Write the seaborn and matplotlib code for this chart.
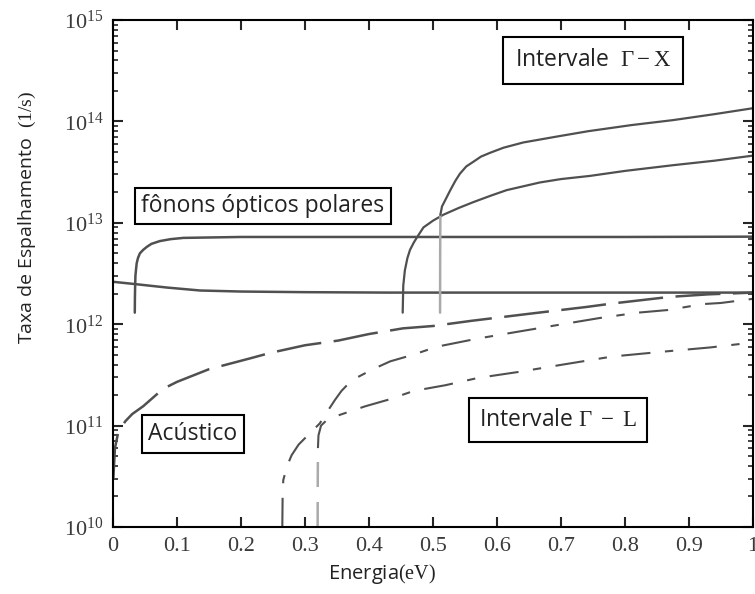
import matplotlib
matplotlib.use("Agg")
import matplotlib.pyplot as plt
import seaborn as sns

# polar optical phonons (Gamma valley)
po1_x = [0.0, 0.031, 0.084, 0.136, 0.2, 0.3, 0.43, 0.6, 0.8, 1.0]
po1_y = [2.62e12, 2.5e12, 2.3e12, 2.15e12, 2.1e12, 2.07e12, 2.05e12, 2.05e12, 2.05e12, 2.05e12]

po2_x = [0.034, 0.0342, 0.0345, 0.035, 0.036, 0.037, 0.039, 0.042, 0.047, 0.053, 0.06, 0.073, 0.09, 0.11, 0.2, 0.4, 0.6, 0.8, 1.0]
po2_y = [1.3e12, 1.8e12, 2.3e12, 3.0e12, 3.5e12, 4.0e12, 4.5e12, 5.0e12, 5.4e12, 5.8e12, 6.2e12, 6.6e12, 6.9e12, 7.1e12, 7.25e12, 7.25e12, 7.25e12, 7.25e12, 7.3e12]

# intervalley Gamma - X
gx1_x = [0.4526, 0.4535, 0.456, 0.46, 0.464, 0.47, 0.475, 0.485, 0.5, 0.516, 0.54, 0.563, 0.59, 0.615, 0.667, 0.7, 0.745, 0.8, 0.875, 0.94, 1.0]
gx1_y = [1.3e12, 2.4e12, 3.4e12, 4.5e12, 5.4e12, 6.4e12, 7.2e12, 9.0e12, 1.05e13, 1.2e13, 1.4e13, 1.6e13, 1.85e13, 2.1e13, 2.5e13, 2.7e13, 2.9e13, 3.25e13, 3.7e13, 4.1e13, 4.6e13]

gx2_x = [0.511, 0.5112, 0.5115, 0.514, 0.519, 0.527, 0.535, 0.542, 0.552, 0.563, 0.575, 0.589, 0.61, 0.641, 0.694, 0.742, 0.81, 0.875, 0.94, 1.0]
gx2_y = [1.3e12, 6e12, 1.2e13, 1.45e13, 1.67e13, 2.1e13, 2.6e13, 3.05e13, 3.6e13, 4.0e13, 4.5e13, 4.9e13, 5.5e13, 6.2e13, 7.1e13, 8.0e13, 9.2e13, 1.03e14, 1.18e14, 1.35e14]

# acoustic
ac_x = [0.0005, 0.003, 0.008, 0.019, 0.03, 0.047, 0.078, 0.1, 0.15, 0.214, 0.245, 0.3, 0.352, 0.4, 0.453, 0.5, 0.56, 0.647, 0.74, 0.78, 0.87, 0.93, 1.0]
ac_y = [3.0e10, 6.0e10, 8.5e10, 1.1e11, 1.3e11, 1.55e11, 2.3e11, 2.7e11, 3.6e11, 4.6e11, 5.2e11, 6.2e11, 6.9e11, 8.0e11, 9.1e11, 9.6e11, 1.08e12, 1.26e12, 1.48e12, 1.6e12, 1.86e12, 1.97e12, 2.05e12]

# intervalley Gamma - L
gl1_x = [0.2645, 0.265, 0.266, 0.272, 0.279, 0.29, 0.305, 0.323, 0.334, 0.347, 0.357, 0.373, 0.406, 0.433, 0.469, 0.506, 0.569, 0.631, 0.694, 0.76, 0.82, 0.867, 0.922, 0.95, 1.0]
gl1_y = [1.0e10, 2.0e10, 2.9e10, 4.0e10, 5.1e10, 6.5e10, 8.1e10, 1.05e11, 1.35e11, 1.8e11, 2.2e11, 2.8e11, 3.6e11, 4.3e11, 5.0e11, 6.0e11, 7.2e11, 8.4e11, 9.8e11, 1.15e12, 1.3e12, 1.38e12, 1.58e12, 1.62e12, 1.78e12]

gl2_x = [0.3197, 0.3199, 0.3202, 0.321, 0.325, 0.335, 0.355, 0.394, 0.43, 0.47, 0.519, 0.57, 0.636, 0.703, 0.78, 0.865, 0.933, 0.972, 1.0]
gl2_y = [1.0e10, 3.0e10, 6.0e10, 8.0e10, 1.0e11, 1.15e11, 1.28e11, 1.55e11, 1.8e11, 2.2e11, 2.5e11, 2.95e11, 3.4e11, 4.0e11, 4.8e11, 5.4e11, 5.9e11, 6.3e11, 6.6e11]

sns.set_style("ticks")
plt.rcParams["font.family"] = ["Open Sans", "DejaVu Sans"]
plt.rcParams["mathtext.fontset"] = "custom"
plt.rcParams["mathtext.rm"] = "Liberation Serif"
plt.rcParams["mathtext.it"] = "Liberation Serif:italic"

fig = plt.figure(figsize=(7.55, 5.94), dpi=100)
ax = fig.add_axes([0.1497, 0.1128, 0.8477, 0.8535])

dark = "#505050"
light = "#aaaaaa"

sns.lineplot(x=po1_x, y=po1_y, ax=ax, color=dark, lw=1.8)
sns.lineplot(x=po2_x, y=po2_y, ax=ax, color=dark, lw=1.8)
sns.lineplot(x=gx1_x, y=gx1_y, ax=ax, color=dark, lw=1.6)
sns.lineplot(x=gx2_x[:3], y=gx2_y[:3], ax=ax, color=light, lw=1.8)
sns.lineplot(x=gx2_x[2:], y=gx2_y[2:], ax=ax, color=dark, lw=1.6)
sns.lineplot(x=ac_x, y=ac_y, ax=ax, color=dark, lw=1.8, linestyle=(0, (18, 5)))
sns.lineplot(x=gl1_x, y=gl1_y, ax=ax, color=dark, lw=1.5, linestyle=(0, (14, 7, 4, 7)))
sns.lineplot(x=gl2_x[:3], y=gl2_y[:3], ax=ax, color=light, lw=1.8, linestyle=(0, (10, 6)))
sns.lineplot(x=gl2_x[2:], y=gl2_y[2:], ax=ax, color=dark, lw=1.5, linestyle=(0, (14, 7, 4, 7)))

ax.set_yscale("log")
ax.set_xlim(0, 1)
ax.set_ylim(1e10, 1e15)
ax.set_xticks([0, 0.1, 0.2, 0.3, 0.4, 0.5, 0.6, 0.7, 0.8, 0.9, 1])
ax.set_xticklabels(["0", "0.1", "0.2", "0.3", "0.4", "0.5", "0.6", "0.7", "0.8", "0.9", "1"])

for s in ax.spines.values():
    s.set_linewidth(1.5)
    s.set_color("black")
ax.tick_params(which="major", direction="in", length=7, width=1.5, top=True, right=True,
               labelsize=16, labelcolor="#3a3a3a", labelfontfamily="Liberation Serif", pad=7)
ax.tick_params(which="minor", direction="in", length=3.5, width=1.2, top=True, right=True)
ax.tick_params(axis="x", which="minor", length=0)

ax.set_xlabel(r"Energia$\mathrm{(eV)}$", fontsize=14.5, color="#222222")
ax.xaxis.set_label_coords(0.42, -0.07)
ax.set_ylabel(r"Taxa de Espalhamento  $\mathrm{(1/s)}$", fontsize=14, color="#222222")
ax.yaxis.set_label_coords(-0.118, 0.61)

ax.text(0.234, 0.633, "fônons ópticos polares", transform=ax.transAxes, ha="center", va="center",
        fontsize=16.5, color="#222222", bbox=dict(boxstyle="square,pad=0.28", fc="white", ec="black", lw=1.5))
ax.text(0.75, 0.921, r"Intervale  $\mathrm{\Gamma - X}$", transform=ax.transAxes, ha="center", va="center",
        fontsize=16.5, color="#222222", bbox=dict(boxstyle="square,pad=0.5", fc="white", ec="black", lw=1.5))
ax.text(0.125, 0.183, "Acústico", transform=ax.transAxes, ha="center", va="center",
        fontsize=16.5, color="#222222", bbox=dict(boxstyle="square,pad=0.3", fc="white", ec="black", lw=1.5))
ax.text(0.695, 0.211, r"Intervale $\mathrm{\Gamma\ -\ L}$", transform=ax.transAxes, ha="center", va="center",
        fontsize=16.5, color="#222222", bbox=dict(boxstyle="square,pad=0.45", fc="white", ec="black", lw=1.5))

fig.savefig("out.png", dpi=100)
